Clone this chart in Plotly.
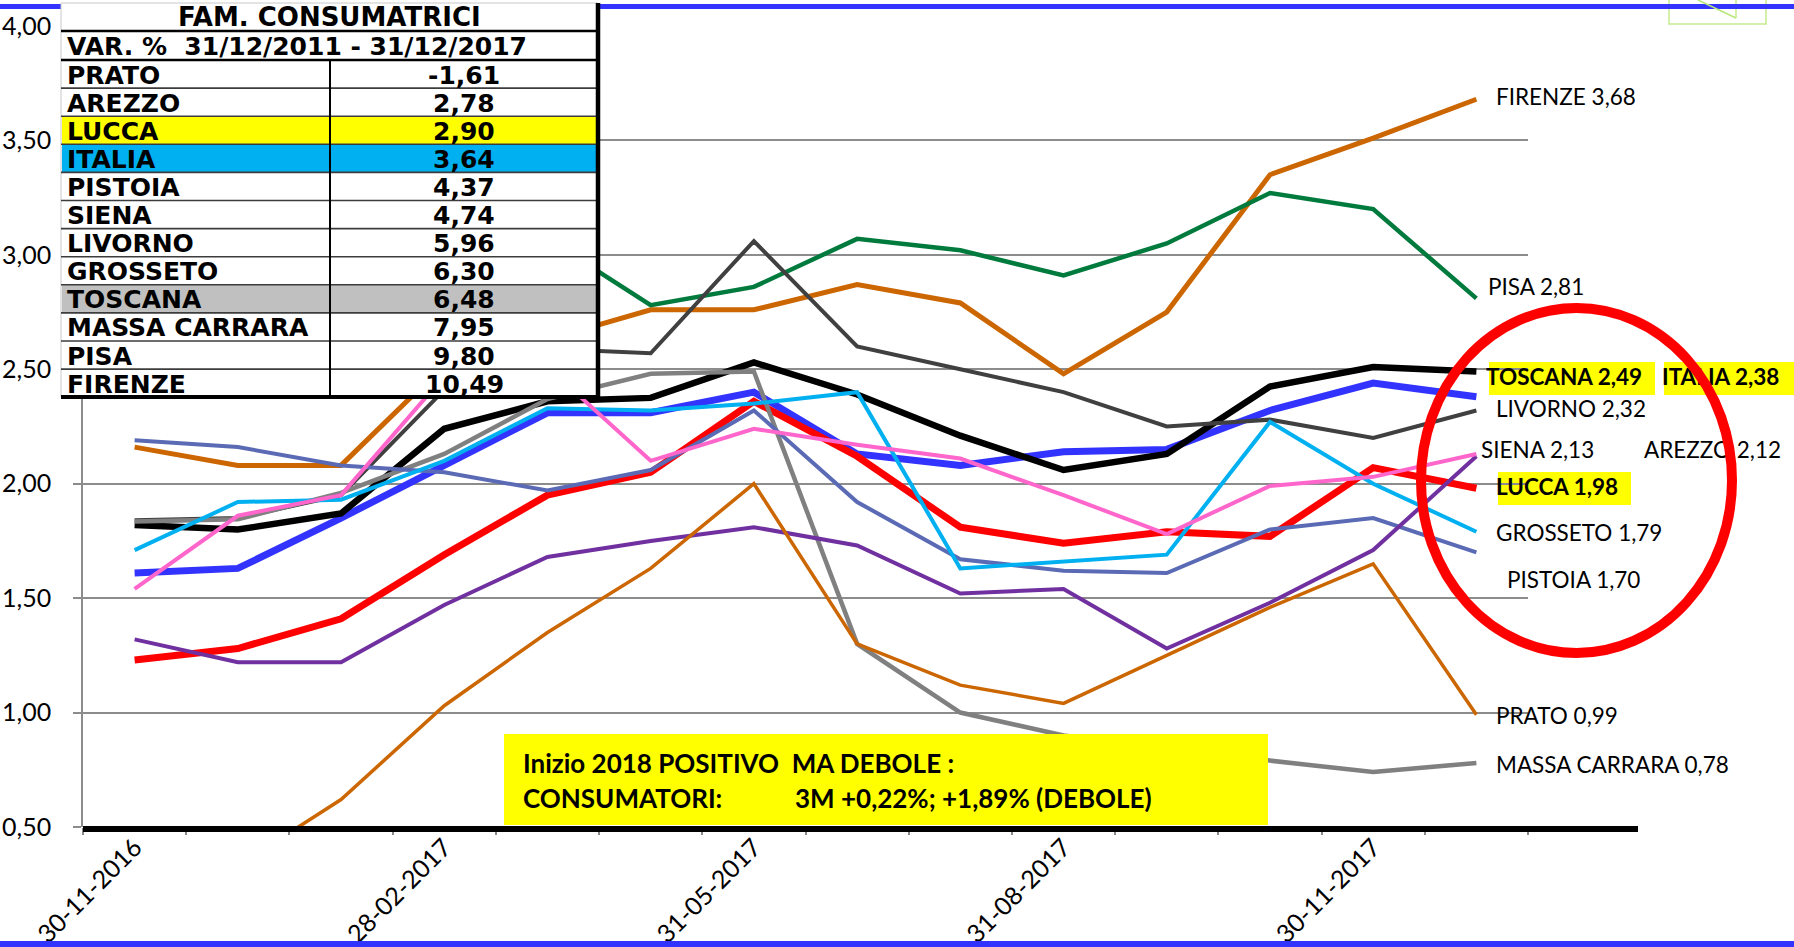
import plotly.graph_objects as go

# ---------------- data ----------------
dates = ["30-11-2016", "31-12-2016", "31-01-2017", "28-02-2017", "31-03-2017",
         "30-04-2017", "31-05-2017", "30-06-2017", "31-07-2017", "31-08-2017",
         "30-09-2017", "31-10-2017", "30-11-2017", "31-12-2017"]
shown_ticks = ["30-11-2016", "28-02-2017", "31-05-2017", "31-08-2017", "30-11-2017"]

toscana = [1.82, 1.80, 1.87, 2.24, 2.36, 2.375, 2.53, 2.39, 2.21, 2.06, 2.13, 2.425, 2.51, 2.49]
italia = [1.61, 1.63, 1.85, 2.08, 2.31, 2.31, 2.40, 2.13, 2.08, 2.14, 2.15, 2.32, 2.44, 2.38]
lucca = [1.23, 1.28, 1.41, 1.69, 1.95, 2.05, 2.36, 2.12, 1.81, 1.74, 1.79, 1.77, 2.07, 1.98]
firenze = [2.16, 2.08, 2.08, 2.52, 2.63, 2.76, 2.76, 2.87, 2.79, 2.48, 2.75, 3.35, 3.51, 3.68]
pisa = [2.55, 2.62, 2.80, 2.95, 3.07, 2.78, 2.86, 3.07, 3.02, 2.91, 3.05, 3.27, 3.20, 2.81]
livorno = [1.84, 1.85, 1.95, 2.41, 2.59, 2.57, 3.06, 2.60, 2.50, 2.40, 2.25, 2.28, 2.20, 2.32]
massa = [1.835, 1.845, 1.96, 2.13, 2.37, 2.48, 2.49, 1.30, 1.00, 0.90, 0.84, 0.79, 0.74, 0.78]
pistoia = [2.19, 2.16, 2.08, 2.05, 1.97, 2.06, 2.32, 1.92, 1.67, 1.62, 1.61, 1.80, 1.85, 1.70]
arezzo = [1.32, 1.22, 1.22, 1.47, 1.68, 1.75, 1.81, 1.73, 1.52, 1.54, 1.28, 1.48, 1.71, 2.12]
prato = [0.20, 0.33, 0.62, 1.03, 1.35, 1.63, 2.00, 1.30, 1.12, 1.04, 1.25, 1.46, 1.65, 0.99]
grosseto = [1.71, 1.92, 1.93, 2.10, 2.33, 2.32, 2.35, 2.40, 1.63, 1.66, 1.69, 2.27, 2.00, 1.79]
siena = [1.54, 1.86, 1.95, 2.47, 2.51, 2.10, 2.24, 2.17, 2.11, 1.95, 1.78, 1.99, 2.03, 2.13]

y_ticks = [0.5, 1.0, 1.5, 2.0, 2.5, 3.0, 3.5, 4.0]

table_title = "FAM. CONSUMATRICI"
table_subtitle = "VAR. %\u00a0\u00a031/12/2011 - 31/12/2017"
table_names = ["PRATO", "AREZZO", "LUCCA", "ITALIA", "PISTOIA", "SIENA", "LIVORNO",
               "GROSSETO", "TOSCANA", "MASSA CARRARA", "PISA", "FIRENZE"]
table_values = ["-1,61", "2,78", "2,90", "3,64", "4,37", "4,74", "5,96",
                "6,30", "6,48", "7,95", "9,80", "10,49"]

note_line1 = "Inizio 2018 POSITIVO\u00a0\u00a0MA DEBOLE :"
note_line2a = "CONSUMATORI:"
note_line2b = "3M +0,22%; +1,89% (DEBOLE)"

# ---------------- geometry (figure pixels) ----------------
W, H = 1794, 947
L, R, T, B = 83, 1528, 26, 827


def xp(px):
    return px / W


def yp(py):
    return (H - py) / H


def fmt(v):
    return f"{v:.2f}".replace(".", ",")


fig = go.Figure()

series = [
    ("ITALIA", italia, "#3333FF", 7),
    ("TOSCANA", toscana, "#000000", 6.5),
    ("LUCCA", lucca, "#FF0000", 7),
    ("FIRENZE", firenze, "#CC6600", 5),
    ("PISA", pisa, "#007A3D", 4.5),
    ("LIVORNO", livorno, "#404040", 4),
    ("MASSA CARRARA", massa, "#808080", 4.5),
    ("PISTOIA", pistoia, "#5A6AB4", 4),
    ("AREZZO", arezzo, "#7030A0", 4),
    ("PRATO", prato, "#CC6600", 3.5),
    ("GROSSETO", grosseto, "#00B0F0", 4),
    ("SIENA", siena, "#FF66CC", 4),
]
for name, vals, col, w in series:
    fig.add_trace(go.Scatter(x=dates, y=vals, mode="lines", name=name,
                             line=dict(color=col, width=w), hoverinfo="skip",
                             showlegend=False))

# ---------------- end labels (text trace so the ellipse can sit on top) ----------------
label_specs = [  # name, series, left px, centre py, bold
    ("FIRENZE", firenze, 1500, 99, False),
    ("PISA", pisa, 1492, 289, False),
    ("TOSCANA", toscana, 1490, 379, True),
    ("ITALIA", italia, 1666, 379, True),
    ("LIVORNO", livorno, 1500, 411, False),
    ("SIENA", siena, 1485, 452, False),
    ("AREZZO", arezzo, 1648, 452, False),
    ("LUCCA", lucca, 1500, 489, True),
    ("GROSSETO", grosseto, 1500, 535, False),
    ("PISTOIA", pistoia, 1511, 582, False),
    ("PRATO", prato, 1500, 718, False),
    ("MASSA CARRARA", massa, 1500, 767, False),
]
lx, ly, lt = [], [], []
for name, vals, px, py, bold in label_specs:
    t = f"{name} {fmt(vals[-1])}"
    lt.append(f"<b>{t}</b>" if bold else t)
    lx.append(px - 4)
    ly.append(py)
fig.add_trace(go.Scatter(x=lx, y=ly, text=lt, mode="text", xaxis="x3", yaxis="y3",
                         textposition="middle right", cliponaxis=False,
                         textfont=dict(family="Lato, Open Sans, sans-serif", size=22.5,
                                       color="#000000"),
                         hoverinfo="skip", showlegend=False))

shapes = []


def rect(x0, y0, x1, y1, fill, line_color=None, lw=0, layer="above"):
    shapes.append(dict(type="rect", xref="paper", yref="paper",
                       x0=xp(x0), x1=xp(x1), y0=yp(y1), y1=yp(y0),
                       fillcolor=fill,
                       line=dict(color=line_color or fill, width=lw),
                       layer=layer))


def seg(x0, y0, x1, y1, color, lw, layer="above"):
    shapes.append(dict(type="line", xref="paper", yref="paper",
                       x0=xp(x0), x1=xp(x1), y0=yp(y0), y1=yp(y1),
                       line=dict(color=color, width=lw), layer=layer))


# yellow backgrounds of highlighted labels (below lines/ellipse)
rect(1489, 362, 1655, 395, "#FFFF00", layer="below")
rect(1664, 362, 1800, 395, "#FFFF00", layer="below")
rect(1498, 472, 1631, 505, "#FFFF00", layer="below")

# decorative top-right green box + blue bars
shapes.append(dict(type="rect", xref="paper", yref="paper", x0=xp(1669), x1=xp(1766),
                   y0=yp(24), y1=yp(-5), line=dict(color="#C4EC8C", width=1.5),
                   fillcolor="rgba(0,0,0,0)", layer="above"))
seg(1736, 0, 1736, 18, "#C4EC8C", 1.5)
rect(-5, 4, 1800, 9, "#3333FF")
rect(-5, 941, 1800, 950, "#3333FF")
seg(1698, 0, 1736, 18, "#B6E878", 1.5)

# ---------------- table ----------------
TX0, TX1, TY0, TY1 = 61, 598, 3, 397
COL = 330
rows_y = [3, 31, 60] + [60 + 28.1 * (k + 1) for k in range(12)]
rect(TX0, TY0, TX1, TY1, "#FFFFFF", line_color="#C8C8C8", lw=1)
row_fill = {"LUCCA": "#FFFF00", "ITALIA": "#00B0F0", "TOSCANA": "#C0C0C0"}
for k, nm in enumerate(table_names):
    if nm in row_fill:
        rect(TX0 + 1, rows_y[k + 2], TX1, rows_y[k + 3], row_fill[nm])
seg(TX0, 31, TX1, 31, "#000000", 2.5)
seg(TX0, 60, TX1, 60, "#000000", 2.5)
for k in range(3, len(rows_y) - 1):
    seg(TX0, rows_y[k], TX1, rows_y[k], "#3C3C3C", 1.6)
seg(COL, 60, COL, TY1, "#000000", 2)
seg(TX1, TY0, TX1, TY1 + 2, "#000000", 4.5)
seg(TX0, TY1, TX1 + 2, TY1, "#000000", 4)

# ---------------- note box ----------------
rect(504, 734, 1268, 825, "#FFFF00")

# bottom black axis line
seg(L, 829, 1638, 829, "#000000", 6)

# red ellipse
shapes.append(dict(type="circle", xref="paper", yref="paper",
                   x0=xp(1421), x1=xp(1732), y0=yp(653), y1=yp(308),
                   line=dict(color="#FF0000", width=10), layer="above"))

annotations = []
TF = "DejaVu Sans, Verdana, sans-serif"
NF = "Lato, Open Sans, sans-serif"


def ann(text, px, py, xanchor, size, family, bold=False):
    annotations.append(dict(text=f"<b>{text}</b>" if bold else text,
                            x=xp(px), y=yp(py), xref="paper", yref="paper",
                            xanchor=xanchor, yanchor="middle", showarrow=False,
                            font=dict(family=family, size=size, color="#000000")))


ann(table_title, (TX0 + TX1) / 2, 17, "center", 26, TF, True)
ann(table_subtitle, 65, 46, "left", 25, TF, True)
for k, (nm, val) in enumerate(zip(table_names, table_values)):
    cy = (rows_y[k + 2] + rows_y[k + 3]) / 2 + 1
    ann(nm, 65, cy, "left", 25, TF, True)
    ann(val, (COL + TX1) / 2, cy, "center", 25, TF, True)

ann(note_line1, 521, 763, "left", 26, NF, True)
ann(note_line2a, 521, 798, "left", 26, NF, True)
ann(note_line2b, 793, 798, "left", 26, NF, True)

fig.update_layout(
    template="none",
    width=W, height=H,
    margin=dict(l=0, r=0, t=0, b=0, pad=0),
    paper_bgcolor="#FFFFFF", plot_bgcolor="rgba(0,0,0,0)",
    showlegend=False,
    shapes=shapes,
    annotations=annotations,
    xaxis=dict(domain=[L / W, R / W], anchor="y",
               type="category", categoryorder="array", categoryarray=dates,
               range=[-0.5, 13.5], tickmode="array", tickvals=dates,
               ticktext=[d if d in shown_ticks else "" for d in dates],
               tickangle=-45, tickson="boundaries", ticks="outside", ticklen=7,
               tickwidth=1.5, tickcolor="#888888", showgrid=False, showline=False,
               zeroline=False, automargin=False,
               tickfont=dict(family=NF, size=25, color="#000000")),
    yaxis=dict(domain=[(H - B) / H, (H - T) / H], anchor="x",
               range=[0.5, 4.0], tickmode="array", tickvals=y_ticks,
               ticktext=[fmt(v) for v in y_ticks], showgrid=True,
               gridcolor="#8C8C8C", gridwidth=1.5, showline=True, linecolor="#8C8C8C",
               linewidth=1.5, ticks="outside", ticklen=8, tickwidth=1.5,
               tickcolor="#8C8C8C", zeroline=False, automargin=False,
               ticklabelstandoff=17,
               tickfont=dict(family=NF, size=25, color="#000000")),
    xaxis3=dict(domain=[0, 1], range=[0, W], visible=False, anchor="y3",
                automargin=False),
    yaxis3=dict(domain=[0, 1], range=[H, 0], visible=False, anchor="x3",
                automargin=False),
)

fig.write_html("out.html", config={"displayModeBar": False},
               post_script="document.body.style.margin='0px';document.body.style.overflow='hidden';")
